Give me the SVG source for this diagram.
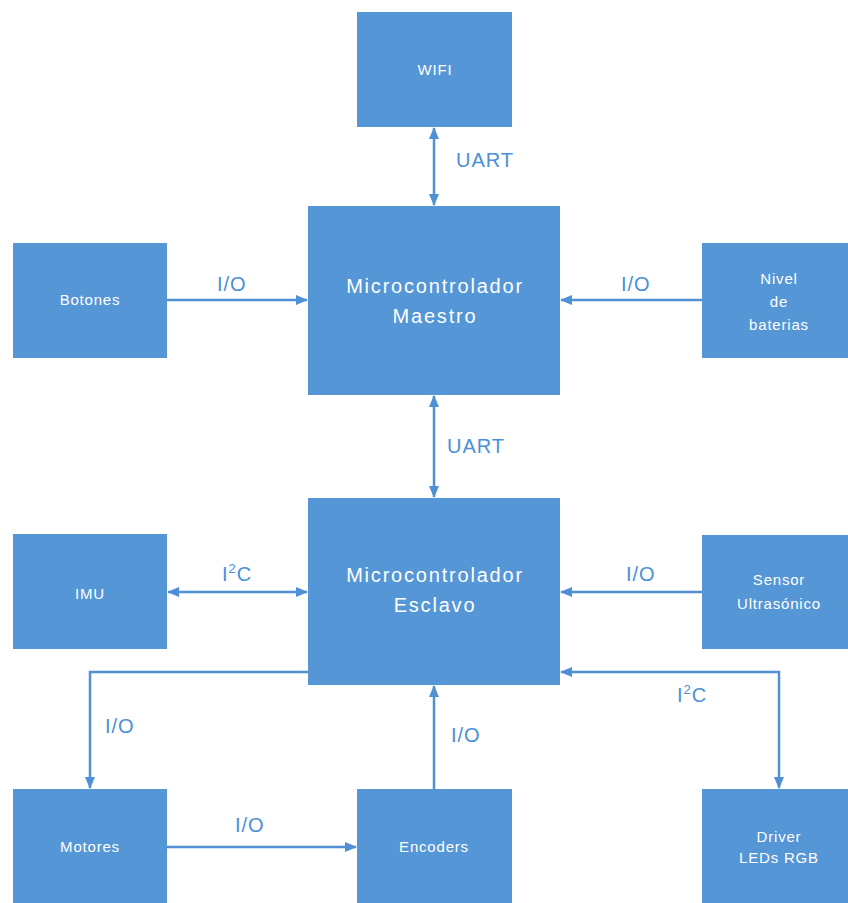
<svg xmlns="http://www.w3.org/2000/svg" width="848" height="903" viewBox="0 0 848 903">
<style>
.box{fill:#5596D6;}
.t{fill:#ffffff;font-family:"Liberation Sans",Arial,sans-serif;font-size:15px;text-anchor:middle;letter-spacing:0.8px;}
.tb{fill:#ffffff;font-family:"Liberation Sans",Arial,sans-serif;font-size:20px;text-anchor:middle;letter-spacing:1.8px;}
.lbl{fill:#4A8FD8;font-family:"Liberation Sans",Arial,sans-serif;font-size:20px;letter-spacing:1px;}
.c{stroke:#4F91D4;stroke-width:2.5;fill:none;}
</style>
<defs>
<marker id="ah" markerUnits="userSpaceOnUse" markerWidth="12" markerHeight="12" refX="11" refY="5" orient="auto-start-reverse" viewBox="0 0 12 10">
<path d="M0,0 L12,5 L0,10 z" fill="#4F91D4"/>
</marker>
</defs>
<rect width="848" height="903" fill="#ffffff"/>
<g id="connectors">
<line class="c" x1="434" y1="128" x2="434" y2="205" marker-start="url(#ah)" marker-end="url(#ah)"/>
<line class="c" x1="167" y1="300" x2="307" y2="300" marker-end="url(#ah)"/>
<line class="c" x1="702" y1="300" x2="561" y2="300" marker-end="url(#ah)"/>
<line class="c" x1="434" y1="396" x2="434" y2="497" marker-start="url(#ah)" marker-end="url(#ah)"/>
<line class="c" x1="168" y1="592" x2="307" y2="592" marker-start="url(#ah)" marker-end="url(#ah)"/>
<line class="c" x1="702" y1="592" x2="561" y2="592" marker-end="url(#ah)"/>
<polyline class="c" points="308,672 90,672 90,788" marker-end="url(#ah)"/>
<line class="c" x1="167" y1="847" x2="356" y2="847" marker-end="url(#ah)"/>
<line class="c" x1="434" y1="789" x2="434" y2="686" marker-end="url(#ah)"/>
<polyline class="c" points="561,672 779,672 779,788" marker-start="url(#ah)" marker-end="url(#ah)"/>
<text class="lbl" x="456" y="167">UART</text>
<text class="lbl" x="217" y="291">I/O</text>
<text class="lbl" x="621" y="291">I/O</text>
<text class="lbl" x="447" y="453">UART</text>
<text class="lbl" x="222" y="581">I<tspan font-size="13" dy="-8">2</tspan><tspan dy="8">C</tspan></text>
<text class="lbl" x="626" y="581">I/O</text>
<text class="lbl" x="105" y="733">I/O</text>
<text class="lbl" x="235" y="832">I/O</text>
<text class="lbl" x="451" y="742">I/O</text>
<text class="lbl" x="677" y="702">I<tspan font-size="13" dy="-8">2</tspan><tspan dy="8">C</tspan></text>
</g>
<g id="wifi"><rect class="box" x="357" y="12" width="155" height="115"/><text class="t" x="435" y="75">WIFI</text></g>
<g id="maestro"><rect class="box" x="308" y="206" width="252" height="189"/><text class="tb" x="435" y="293">Microcontrolador</text><text class="tb" x="435" y="323">Maestro</text></g>
<g id="botones"><rect class="box" x="13" y="243" width="154" height="115"/><text class="t" x="90" y="305">Botones</text></g>
<g id="nivel"><rect class="box" x="702" y="243" width="155" height="115"/><text class="t" x="779" y="284">Nivel</text><text class="t" x="779" y="307">de</text><text class="t" x="779" y="330">baterias</text></g>
<g id="esclavo"><rect class="box" x="308" y="498" width="252" height="187"/><text class="tb" x="435" y="582">Microcontrolador</text><text class="tb" x="435" y="612">Esclavo</text></g>
<g id="imu"><rect class="box" x="13" y="534" width="154" height="115"/><text class="t" x="90" y="599">IMU</text></g>
<g id="sensor"><rect class="box" x="702" y="535" width="155" height="114"/><text class="t" x="779" y="585">Sensor</text><text class="t" x="779" y="609">Ultrasónico</text></g>
<g id="motores"><rect class="box" x="13" y="789" width="154" height="115"/><text class="t" x="90" y="852">Motores</text></g>
<g id="encoders"><rect class="box" x="357" y="789" width="155" height="115"/><text class="t" x="434" y="852">Encoders</text></g>
<g id="driver"><rect class="box" x="702" y="789" width="155" height="115"/><text class="t" x="779" y="842">Driver</text><text class="t" x="779" y="863">LEDs RGB</text></g>
</svg>
